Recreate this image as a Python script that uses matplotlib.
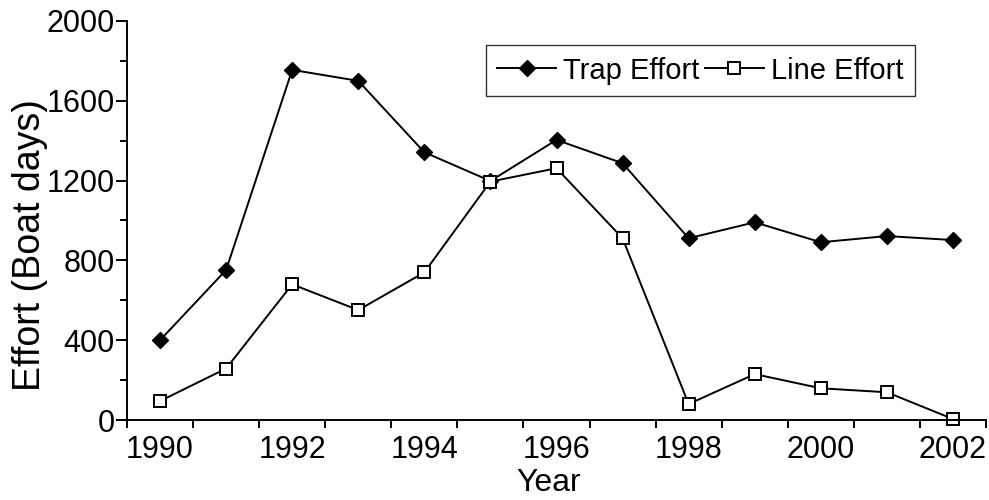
import matplotlib.pyplot as plt
from matplotlib.ticker import MultipleLocator

years = [1990, 1991, 1992, 1993, 1994, 1995, 1996, 1997, 1998, 1999, 2000, 2001, 2002]
trap_effort = [400, 752, 1755, 1700, 1342, 1198, 1404, 1287, 911, 991, 891, 922, 902]
line_effort = [95, 258, 680, 551, 740, 1195, 1262, 911, 80, 230, 159, 139, 5]

plt.rcParams['font.family'] = ['Liberation Sans', 'DejaVu Sans']
fs = 22

fig = plt.figure(figsize=(9.89, 5), dpi=100)
ax = fig.add_axes([127 / 989, 0.16, (986 - 127) / 989, (420 - 21) / 500])

x = list(range(len(years)))
ax.plot(x, trap_effort, color='black', lw=1.4, marker='D', ms=8,
        mfc='black', mec='black', label='Trap Effort', clip_on=False)
ax.plot(x, line_effort, color='black', lw=1.4, marker='s', ms=9,
        mfc='white', mec='black', mew=1.4, label='Line Effort', clip_on=False)

ax.set_xlim(-0.5, len(years) - 0.5)
ax.set_ylim(0, 2000)

# category axis: labels on every other year, ticks between categories
ax.set_xticks(x[::2])
ax.set_xticklabels([str(y) for y in years[::2]])
ax.set_xticks([i - 0.5 for i in range(len(years) + 1)], minor=True)
ax.tick_params(axis='x', which='major', length=0, pad=11, labelsize=fs)
ax.tick_params(axis='x', which='minor', length=6, width=1.4, direction='out')

ax.yaxis.set_major_locator(MultipleLocator(400))
ax.yaxis.set_minor_locator(MultipleLocator(200))
ax.tick_params(axis='y', which='major', length=8, width=1.4, labelsize=fs, pad=1)
ax.tick_params(axis='y', which='minor', length=5, width=1.4)

for s in ['top', 'right']:
    ax.spines[s].set_visible(False)
for s in ['left', 'bottom']:
    ax.spines[s].set_linewidth(1.4)

ax.set_xlabel('Year', fontsize=23, va='bottom')
ax.xaxis.set_label_coords((549 - 127) / 859, (420 - 498) / 399)
ax.set_ylabel('Effort (Boat days)', fontsize=27)
ax.yaxis.set_label_coords((48 - 127) / 859, (420 - 245) / 399)

leg = ax.legend(loc='upper right', ncol=2, fontsize=21, frameon=True,
                fancybox=False, handlelength=2.0, handletextpad=0.25,
                columnspacing=0.2, borderpad=0.4, borderaxespad=0)
leg.set_bbox_to_anchor((915 / 989, 1 - 45 / 500), transform=fig.transFigure)
leg.get_frame().set_edgecolor('black')
leg.get_frame().set_linewidth(1.0)

fig.savefig('out.png', dpi=100)
